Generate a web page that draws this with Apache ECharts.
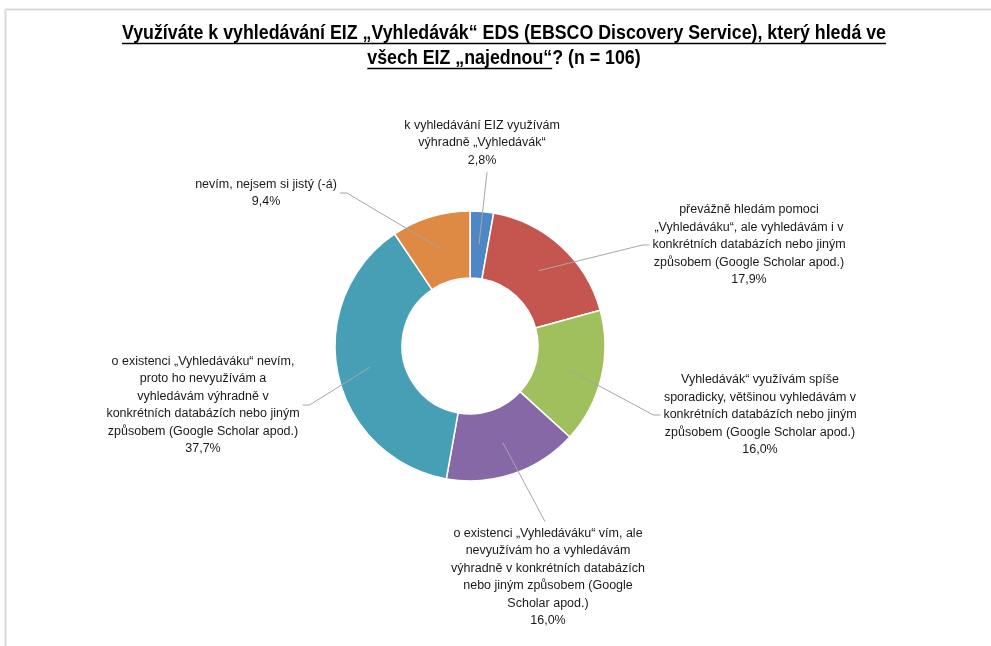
<!DOCTYPE html>
<html>
<head>
<meta charset="utf-8">
<script src="https://cdn.jsdelivr.net/npm/echarts@6/dist/echarts.min.js"></script>
<style>
html,body{margin:0;padding:0;background:#fff;}
#chart{width:991px;height:646px;}
</style>
</head>
<body>
<div id="chart"></div>
<script>
// ---- data ----
const categories = [
  "k vyhledávání EIZ využívám\nvýhradně „Vyhledávák“",
  "převážně hledám pomoci\n„Vyhledáváku“, ale vyhledávám i v\nkonkrétních databázích nebo jiným\nzpůsobem (Google Scholar apod.)",
  "Vyhledávák“ využívám spíše\nsporadicky, většinou vyhledávám v\nkonkrétních databázích nebo jiným\nzpůsobem (Google Scholar apod.)",
  "o existenci „Vyhledáváku“ vím, ale\nnevyužívám ho a vyhledávám\nvýhradně v konkrétních databázích\nnebo jiným způsobem (Google\nScholar apod.)",
  "o existenci „Vyhledáváku“ nevím,\nproto ho nevyužívám a\nvyhledávám výhradně v\nkonkrétních databázích nebo jiným\nzpůsobem (Google Scholar apod.)",
  "nevím, nejsem si jistý (-á)"
];
const percentages = [2.8, 17.9, 16.0, 16.0, 37.7, 9.4];
const titleLine1 = "Využíváte k vyhledávání EIZ „Vyhledávák“ EDS (EBSCO Discovery Service), který hledá ve";
const titleLine2Underlined = "všech EIZ „najednou“";
const titleLine2Rest = "? (n = 106)";

// ---- styles / layout ----
const colors = ["#4F86C4", "#C4564F", "#A0C05E", "#8668A6", "#469FB5", "#DE8A44"];
const center = [470, 346];
const radii = [68, 135];
const lineStartR = 102;
const labelPlacement = [
  {x: 482, y: 143, side: 'bottom'},
  {x: 749, y: 245, side: 'left'},
  {x: 760, y: 415, side: 'left'},
  {x: 548, y: 577, side: 'top'},
  {x: 203, y: 405, side: 'right'},
  {x: 266, y: 193, side: 'right'}
];

const titleFont = "bold 21px 'Liberation Sans', Arial, sans-serif";
const labelFontFamily = "'Liberation Sans', Arial, sans-serif";

const mctx = document.createElement('canvas').getContext('2d');
mctx.font = titleFont;
const w1raw = mctx.measureText(titleLine1).width;
const sx = 764 / w1raw;
const w1 = w1raw * sx;
const w2u = mctx.measureText(titleLine2Underlined).width * sx;
const w2 = mctx.measureText(titleLine2Underlined + titleLine2Rest).width * sx;
const tcx = 504, ty1 = 33, ty2 = 58;

const chart = echarts.init(document.getElementById('chart'), null, {renderer: 'canvas'});

const seriesData = categories.map((c, i) => ({name: c, value: percentages[i]}));

chart.setOption({
  animation: false,
  backgroundColor: '#fff',
  color: colors,
  graphic: [
    {type: 'line', shape: {x1: 5, y1: 9.5, x2: 991, y2: 9.5}, style: {stroke: '#D9D9D9', lineWidth: 2}, silent: true},
    {type: 'line', shape: {x1: 5.5, y1: 9, x2: 5.5, y2: 646}, style: {stroke: '#D9D9D9', lineWidth: 2}, silent: true},
    {type: 'text', x: tcx, y: ty1, scaleX: sx, style: {text: titleLine1, font: titleFont, fill: '#000', align: 'center', verticalAlign: 'middle'}},
    {type: 'text', x: tcx - w2 / 2, y: ty2, scaleX: sx, style: {text: titleLine2Underlined + titleLine2Rest, font: titleFont, fill: '#000', align: 'left', verticalAlign: 'middle'}},
    {type: 'line', shape: {x1: tcx - w1 / 2, y1: ty1 + 10.5, x2: tcx + w1 / 2, y2: ty1 + 10.5}, style: {stroke: '#000', lineWidth: 1.4}},
    {type: 'line', shape: {x1: tcx - w2 / 2, y1: ty2 + 10.5, x2: tcx - w2 / 2 + w2u, y2: ty2 + 10.5}, style: {stroke: '#000', lineWidth: 1.4}}
  ],
  series: [{
    type: 'pie',
    z: 2,
    center: center,
    radius: radii,
    startAngle: 90,
    clockwise: true,
    emphasis: {disabled: true},
    itemStyle: {borderColor: '#fff', borderWidth: 1.5},
    label: {show: false},
    labelLine: {show: false},
    data: seriesData
  }, {
    type: 'pie',
    z: 3,
    silent: true,
    center: center,
    radius: radii,
    startAngle: 90,
    clockwise: true,
    avoidLabelOverlap: false,
    emphasis: {disabled: true},
    itemStyle: {color: 'rgba(0,0,0,0)', borderWidth: 0},
    label: {
      show: true,
      position: 'outside',
      fontSize: 12.5,
      lineHeight: 17.5,
      fontFamily: labelFontFamily,
      color: '#1a1a1a',
      align: 'center',
      formatter: p => p.name + '\n' + p.value.toFixed(1).replace('.', ',') + '%'
    },
    labelLine: {show: true, lineStyle: {color: '#A6A6A6', width: 1}},
    labelLayout: function (p) {
      const L = labelPlacement[p.dataIndex];
      const w = p.labelRect.width, h = p.labelRect.height;
      const p0 = p.labelLinePoints[0];
      const dx = p0[0] - center[0], dy = p0[1] - center[1];
      const d = Math.sqrt(dx * dx + dy * dy) || 1;
      const start = [center[0] + dx / d * lineStartR, center[1] + dy / d * lineStartR];
      let pts;
      if (L.side === 'left') {
        const end = [L.x - w / 2 - 3, L.y];
        pts = [start, [end[0] - 7, end[1]], end];
      } else if (L.side === 'right') {
        const end = [L.x + w / 2 + 3, L.y];
        pts = [start, [end[0] + 7, end[1]], end];
      } else if (L.side === 'bottom') {
        const end = [L.x + 5, L.y + h / 2 + 3];
        pts = [start, end];
      } else {
        const end = [L.x - 3, L.y - h / 2 - 3];
        pts = [start, end];
      }
      return {x: L.x, y: L.y, align: 'center', verticalAlign: 'middle', labelLinePoints: pts};
    },
    data: seriesData
  }]
});
</script>
</body>
</html>
